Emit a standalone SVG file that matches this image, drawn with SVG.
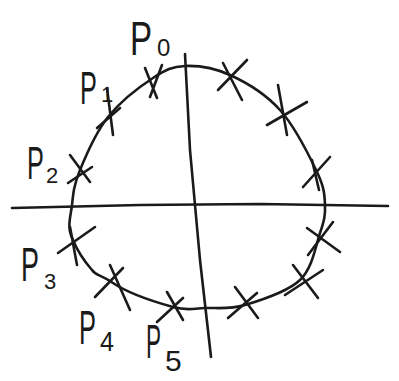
<svg xmlns="http://www.w3.org/2000/svg" width="399" height="381" viewBox="0 0 399 381">
<style>
.ln{fill:none;stroke:#1a1a1a;stroke-width:2.6;stroke-linecap:round;stroke-linejoin:round}
.x{fill:none;stroke:#1a1a1a;stroke-width:2.6;stroke-linecap:round}
.lb{font-family:"Liberation Sans",Arial,sans-serif;fill:#1a1a1a}
</style>
<rect width="399" height="381" fill="#fff"/>
<g id="connectors">
<path id="circle" class="ln" d="M185,66 C197.8,65.5 214.2,67.8 230,75 C245.8,82.2 265.5,93.8 280,110 C294.5,126.2 309.5,156.2 317,172 C324.5,187.8 324.5,194.8 325,205 C325.5,215.2 324.2,220.5 320,233 C315.8,245.5 312.5,268 300,280 C287.5,292 260.8,300.3 245,305 C229.2,309.7 217,307.7 205,308 C193,308.3 188.3,311.2 173,307 C157.7,302.8 129.7,294.2 113,283 C100,274 96,276 92,270 C85,262 77,250 73,240 C66.2,227 70.8,216.7 72,205 C73.2,193.3 74,184.7 80,170 C86,155.3 95.8,132.3 108,117 C120.2,101.7 140.2,86.3 153,78 C165.8,69.7 172.2,66.5 185,66 Z"/>
<path id="h-axis" class="ln" d="M12,208 L140,205 L260,204 L388,206"/>
<path id="v-axis" class="ln" d="M185,54 L190,150 L200,260 L211,357"/>
</g>
<g id="marks">
<g id="m0"><path class="x" d="M145,68 L157,98 M162,65 L150,97"/></g>
<g id="m1"><path class="x" d="M218,90 L247,60 M223,63 L242,100"/></g>
<g id="m2"><path class="x" d="M278,85 L287,135 M267,125 L307,102"/></g>
<g id="m3"><path class="x" d="M303,187 L330,157 M312,160 L319,190"/></g>
<g id="m4"><path class="x" d="M307,228 L340,252 M308,255 L333,222"/></g>
<g id="m5"><path class="x" d="M293,265 L318,298 M285,295 L323,270"/></g>
<g id="m6"><path class="x" d="M235,287 L258,318 M228,318 L257,293"/></g>
<g id="m7"><path class="x" d="M167,292 L183,320 M157,322 L183,298"/></g>
<g id="m8"><path class="x" d="M110,265 L130,310 M95,297 L123,268"/></g>
<g id="m9"><path class="x" d="M58,253 L95,227 M70,227 L77,265"/></g>
<g id="m10"><path class="x" d="M70,155 L90,182 M68,183 L92,167"/></g>
<g id="m11"><path class="x" d="M107,88 L113,135 M97,128 L120,108"/></g>
</g>
<g id="labels">
<g id="p0"><text class="lb" transform="translate(130,55) scale(0.69,1)" font-size="48">P</text><text class="lb" x="157" y="56" font-size="24">0</text></g>
<g id="p1"><text class="lb" transform="translate(80,104) scale(0.55,1)" font-size="46">P</text><text class="lb" x="101" y="102" font-size="22">1</text></g>
<g id="p2"><text class="lb" transform="translate(27,179) scale(0.55,1)" font-size="46">P</text><text class="lb" x="46" y="183" font-size="22">2</text></g>
<g id="p3"><text class="lb" transform="translate(21,281) scale(0.56,1)" font-size="48">P</text><text class="lb" x="44" y="289" font-size="22">3</text></g>
<g id="p4"><text class="lb" transform="translate(79,344) scale(0.53,1)" font-size="48">P</text><text class="lb" transform="translate(100,351) scale(0.9,1)" font-size="28">4</text></g>
<g id="p5"><text class="lb" transform="translate(146,358) scale(0.47,1)" font-size="48">P</text><text class="lb" x="165" y="371" font-size="30">5</text></g>
</g>
</svg>
